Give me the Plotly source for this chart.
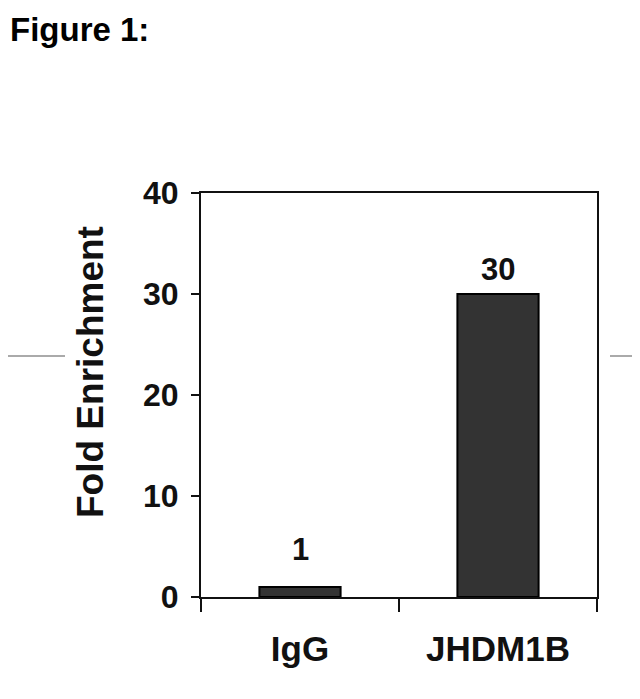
import plotly.graph_objects as go

categories = ["IgG", "JHDM1B"]
fold_enrichment = [1, 30]
value_labels = ["1", "30"]
y_ticks = [0, 10, 20, 30, 40]

FONT = "Liberation Sans, Arial, sans-serif"

# page has an 8px body margin, so the figure is 632x691 and offset by 8px
W, H = 632, 691
L, R, T, B = 193, 43, 185, 102
PW, PH = W - L - R, H - T - B

def px_x(x):  # reference page x -> paper coords
    return (x - 8 - L) / PW

def px_y(y):  # reference page y -> paper coords
    return (H - B - (y - 8)) / PH

fig = go.Figure()
fig.add_trace(go.Bar(
    x=categories,
    y=fold_enrichment,
    width=0.41,
    marker=dict(color="#333333", line=dict(color="#000000", width=2)),
))

label_shift = [18, 5]
for cat, val, lab, sh in zip(categories, fold_enrichment, value_labels, label_shift):
    fig.add_annotation(
        x=cat, y=val, text=lab, showarrow=False,
        xanchor="center", yanchor="bottom", yshift=sh,
        font=dict(family=FONT, size=31, color="#111111", weight="bold"),
    )

fig.update_layout(
    width=W, height=H,
    margin=dict(l=L, r=R, t=T, b=B),
    paper_bgcolor="white", plot_bgcolor="white",
    showlegend=False,
    title=dict(text="Figure 1:", x=2/W, xref="container", xanchor="left",
               y=1-21/H, yref="container", yanchor="middle",
               font=dict(family=FONT, size=33, color="#000000", weight="bold")),
    font=dict(family=FONT, color="#111111"),
)

fig.update_xaxes(
    type="category", tickson="boundaries",
    showline=True, linecolor="#111111", linewidth=2, mirror=True,
    ticks="outside", ticklen=13, tickwidth=2, tickcolor="#111111",
    showgrid=False, zeroline=False,
    ticklabelstandoff=20,
    tickfont=dict(family=FONT, size=35, color="#111111", weight="bold"),
)
fig.update_yaxes(
    range=[0, 40], tickvals=y_ticks,
    showline=True, linecolor="#111111", linewidth=2, mirror=True,
    ticks="outside", ticklen=8, tickwidth=2, tickcolor="#111111",
    showgrid=False, zeroline=False,
    ticklabelstandoff=6,
    tickfont=dict(family=FONT, size=32, color="#111111", weight="bold"),
)

fig.add_annotation(
    text="Fold Enrichment", textangle=-90,
    xref="paper", yref="paper", x=px_x(90), y=px_y(372),
    xanchor="center", yanchor="middle", showarrow=False,
    font=dict(family=FONT, size=37, color="#111111", weight="bold"),
)

for x0, x1 in [(px_x(-10), px_x(65)), (px_x(610), px_x(660))]:
    fig.add_shape(type="line", xref="paper", yref="paper",
                  x0=x0, x1=x1, y0=px_y(356), y1=px_y(356),
                  line=dict(color="#aaaaaa", width=2))

fig.write_html("out.html")
